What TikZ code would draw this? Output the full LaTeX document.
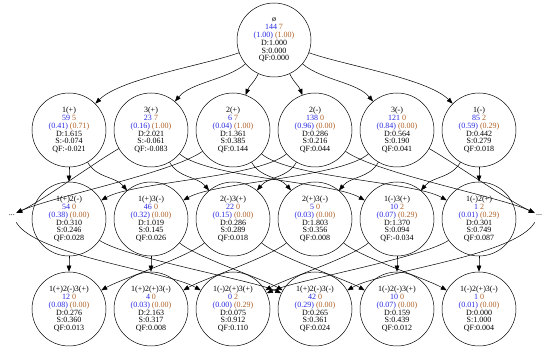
\documentclass[tikz,border=0pt]{standalone}
\usepackage{fontspec}
\setmainfont{Liberation Serif}
\usetikzlibrary{arrows.meta}

\definecolor{bleu}{RGB}{40,40,225}
\definecolor{brun}{RGB}{175,95,35}

\newcommand{\etiq}[8]{#1\\\textcolor{bleu}{#2} \textcolor{brun}{#3}\\\textcolor{bleu}{(#4)} \textcolor{brun}{(#5)}\\D:#6\\S:#7\\QF:#8}

\tikzset{
etat/.style={circle,draw,minimum size=74pt,inner sep=0pt,align=center,font=\fontsize{8}{7.8}\selectfont},
fleche/.style={-{Triangle[length=6pt,width=4.5pt]}},
points/.style={inner sep=0pt,minimum width=8pt,minimum height=44pt,font=\fontsize{8}{7.8}\selectfont}
}

\begin{document}
\begin{tikzpicture}[x=1pt,y=1pt,line width=0.5pt]

\useasboundingbox (0,0) rectangle (550,351);

% Racine
\node[etat] (r) at (274,311)
{\etiq{ø}{144}{7}{1.00}{1.00}{1.000}{0.000}{0.000}};

% Niveau 1
\node[etat] (a1) at (69,221)
{\etiq{1(+)}{59}{5}{0.41}{0.71}{1.615}{-0.074}{-0.021}};

\node[etat] (a2) at (151,221)
{\etiq{3(+)}{23}{7}{0.16}{1.00}{2.021}{-0.061}{-0.083}};

\node[etat] (a3) at (233,221)
{\etiq{2(+)}{6}{7}{0.04}{1.00}{1.361}{0.385}{0.144}};

\node[etat] (a4) at (315,221)
{\etiq{2(-)}{138}{0}{0.96}{0.00}{0.286}{0.216}{0.044}};

\node[etat] (a5) at (397,221)
{\etiq{3(-)}{121}{0}{0.84}{0.00}{0.564}{0.190}{0.041}};

\node[etat] (a6) at (479,221)
{\etiq{1(-)}{85}{2}{0.59}{0.29}{0.442}{0.279}{0.018}};

% Niveau 2
\node[etat] (b1) at (69,132)
{\etiq{1(+)2(-)}{54}{0}{0.38}{0.00}{0.310}{0.246}{0.028}};

\node[etat] (b2) at (151,132)
{\etiq{1(+)3(-)}{46}{0}{0.32}{0.00}{1.019}{0.145}{0.026}};

\node[etat] (b3) at (233,132)
{\etiq{2(-)3(+)}{22}{0}{0.15}{0.00}{0.286}{0.289}{0.018}};

\node[etat] (b4) at (315,132)
{\etiq{2(+)3(-)}{5}{0}{0.03}{0.00}{1.803}{0.356}{0.008}};

\node[etat] (b5) at (397,132)
{\etiq{1(-)3(+)}{10}{2}{0.07}{0.29}{1.370}{0.094}{-0.034}};

\node[etat] (b6) at (479,132)
{\etiq{1(-)2(+)}{1}{2}{0.01}{0.29}{0.301}{0.749}{0.087}};

\node[points] (dl) at (12,136)
{...};

\node[points] (dr) at (539,136)
{...};

% Niveau 3
\node[etat] (c1) at (69,42)
{\etiq{1(+)2(-)3(+)}{12}{0}{0.08}{0.00}{0.276}{0.360}{0.013}};

\node[etat] (c2) at (151,42)
{\etiq{1(+)2(+)3(-)}{4}{0}{0.03}{0.00}{2.163}{0.317}{0.008}};

\node[etat] (c3) at (233,42)
{\etiq{1(-)2(+)3(+)}{0}{2}{0.00}{0.29}{0.075}{0.912}{0.110}};

\node[etat] (c4) at (315,42)
{\etiq{1(+)2(-)3(-)}{42}{0}{0.29}{0.00}{0.265}{0.361}{0.024}};

\node[etat] (c5) at (397,42)
{\etiq{1(-)2(-)3(+)}{10}{0}{0.07}{0.00}{0.159}{0.439}{0.012}};

\node[etat] (c6) at (479,42)
{\etiq{1(-)2(+)3(-)}{1}{0}{0.01}{0.00}{0.000}{1.000}{0.004}};

% Arcs
\foreach \a/\b/\o/\i/\l in {r/a1/200/45/0.6, r/a2/220/50/0.8, r/a3/245/70/1, r/a4/295/110/1, r/a5/320/130/0.8, r/a6/340/135/0.6,
a1/b1/270/90/1, a1/b2/300/130/1, a2/b3/300/130/1, a2/b5/320/150/0.5, a3/b4/300/130/1, a3/b6/320/150/0.5,
a4/b1/220/30/0.5, a4/b3/240/50/1, a5/b2/220/30/0.5, a5/b4/240/50/1, a6/b5/240/50/1, a6/b6/270/90/1,
a2/dl/210/25/0.6, a3/dl/215/25/0.5, a4/dr/325/155/0.5, a5/dr/330/155/0.6,
b1/c1/270/90/1, b2/c2/270/90/1, b5/c5/270/90/1, b6/c6/270/90/1,
b3/c1/220/30/0.5, b4/c2/220/30/0.5, b5/c3/220/30/0.5, b6/c3/215/25/0.4,
b1/c4/325/155/0.4, b2/c4/320/150/0.5, b3/c5/320/150/0.5, b4/c6/320/150/0.5,
dl/c3/300/150/0.5, dr/c4/240/30/0.5}
{
\draw[fleche] (\a) to[out=\o,in=\i,looseness=\l] (\b);
}

\end{tikzpicture}
\end{document}
